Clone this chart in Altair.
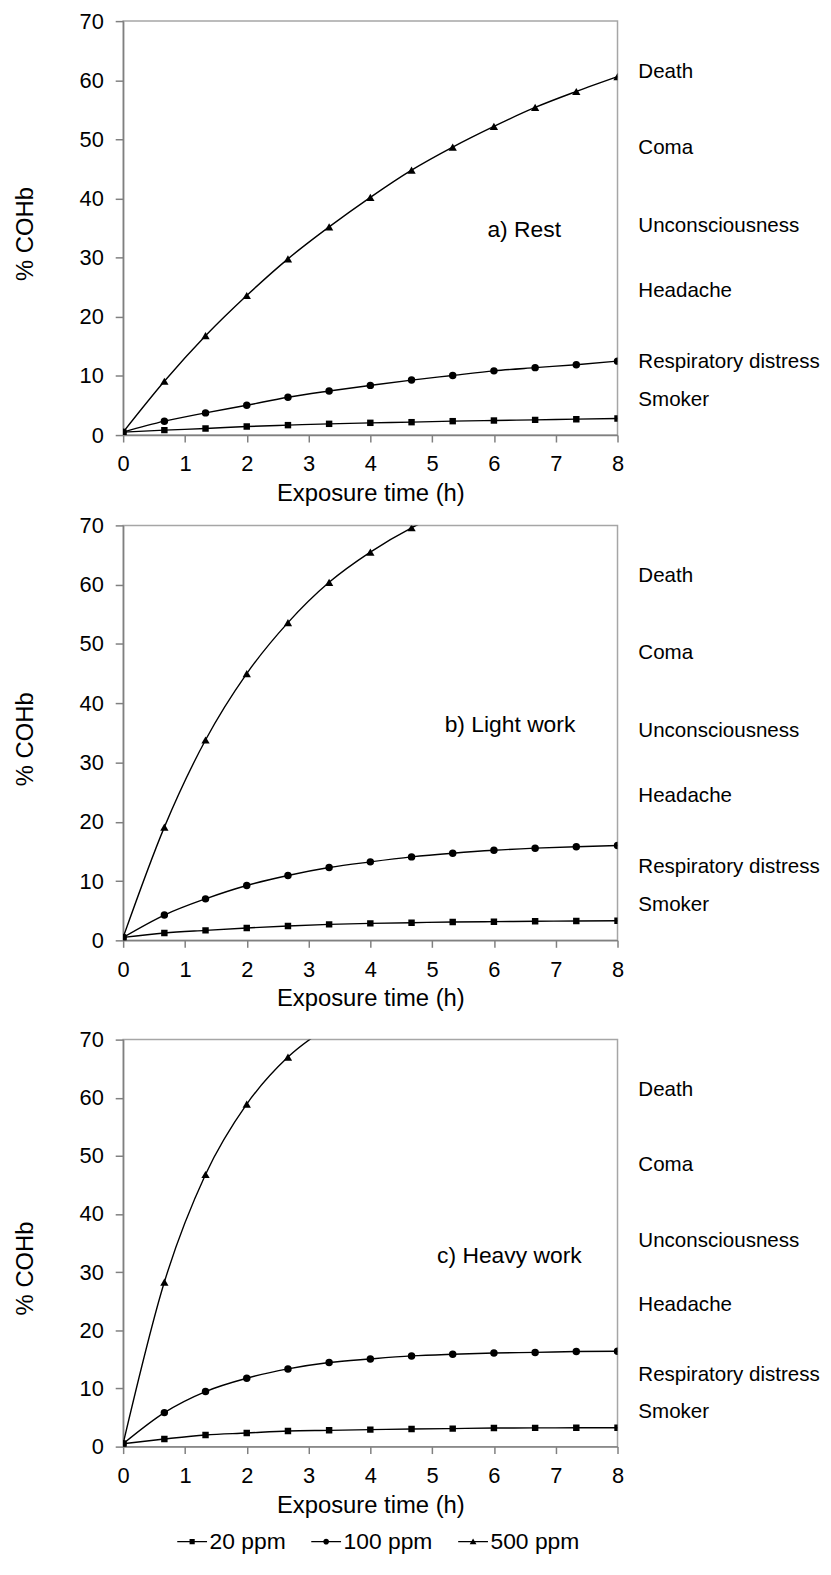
import altair as alt
import pandas as pd

FONT = "Liberation Sans"

# Exposure times (h) of the plotted points (every 40 min)
times = [0, 0.667, 1.333, 2, 2.667, 3.333, 4, 4.667, 5.333, 6, 6.667, 7.333, 8]
series_names = ["20 ppm", "100 ppm", "500 ppm"]
series_shapes = ["square", "circle", "triangle-up"]
series_sizes = [42, 56, 70]

# a) Rest
rest_20 = [0.5, 0.84, 1.10, 1.45, 1.68, 1.90, 2.07, 2.18, 2.35, 2.46, 2.57, 2.69, 2.80]
rest_100 = [0.5, 2.35, 3.75, 5.04, 6.40, 7.45, 8.40, 9.30, 10.08, 10.86, 11.40, 11.90, 12.50]
rest_500 = [0.5, 9.1, 16.8, 23.6, 29.8, 35.2, 40.2, 44.8, 48.7, 52.2, 55.4, 58.1, 60.6]
# b) Light work
light_20 = [0.5, 1.24, 1.68, 2.08, 2.42, 2.69, 2.86, 2.98, 3.09, 3.15, 3.22, 3.26, 3.30]
light_100 = [0.5, 4.27, 7.00, 9.25, 10.94, 12.28, 13.24, 14.08, 14.70, 15.20, 15.55, 15.80, 16.00]
light_500 = [0.5, 19.1, 33.8, 45.0, 53.6, 60.4, 65.5, 69.6, 72.7]
# c) Heavy work
heavy_20 = [0.5, 1.31, 2.00, 2.34, 2.69, 2.80, 2.92, 3.03, 3.10, 3.20, 3.22, 3.24, 3.25]
heavy_100 = [0.5, 5.85, 9.47, 11.76, 13.36, 14.46, 15.08, 15.60, 15.89, 16.10, 16.20, 16.35, 16.40]
heavy_500 = [0.5, 28.3, 46.8, 58.9, 67.0, 72.3]

panel_titles = ["a) Rest", "b) Light work", "c) Heavy work"]
panel_title_x = [6.49, 6.26, 6.25]
panel_title_y = [34.7, 36.3, 32.8]
panel_heights = [417, 418, 410]
y_title_offsets = [214, 215, 230]

effect_labels = ["Death", "Coma", "Unconsciousness", "Headache",
                 "Respiratory distress", "Smoker"]
effect_levels = [61.4, 48.5, 35.3, 24.4, 12.3, 6.0]

x_ticks = [0, 1, 2, 3, 4, 5, 6, 7, 8]
y_ticks = [0, 10, 20, 30, 40, 50, 60, 70]

# legend symbols: a short line (thin filled bar) with the marker in its middle
bar = "M-1.5,-0.07H1.5V0.07H-1.5Z"
legend_paths = [
    bar + "M-0.26,-0.26H0.26V0.26H-0.26Z",
    bar + "M-0.29,0A0.29,0.29 0 1,1 0.29,0A0.29,0.29 0 1,1 -0.29,0Z",
    bar + "M0,-0.32L0.34,0.26L-0.34,0.26Z",
]

legend = alt.Legend(
    title=None,
    orient="none",
    legendX=58,
    legendY=1520,
    offset=0,
    direction="horizontal",
    labelFont=FONT,
    labelFontSize=23,
    labelColor="black",
    labelOffset=6,
    labelLimit=300,
    columnPadding=25,
    symbolSize=400,
    symbolOpacity=1,
    symbolFillColor="black",
    symbolStrokeColor="black",
    symbolStrokeWidth=0,
)


def make_df(s20, s100, s500):
    rows = []
    for name, vals in zip(series_names, [s20, s100, s500]):
        for t, v in zip(times, vals):
            rows.append({"t": t, "v": v, "series": name})
    return pd.DataFrame(rows)


def panel(df, idx, with_legend):
    x = alt.X("t:Q", scale=alt.Scale(domain=[0, 8], nice=False),
              axis=alt.Axis(values=x_ticks, title="Exposure time (h)", format="d",
                            labelFlush=False))
    y = alt.Y("v:Q", scale=alt.Scale(domain=[0, 70], nice=False),
              axis=alt.Axis(values=y_ticks, title="% COHb",
                            titleX=-86.5, titleY=y_title_offsets[idx]))
    base = alt.Chart(df)
    layers = [
        base.mark_line(clip=True, color="black", strokeWidth=1.4,
                       interpolate="monotone").encode(x=x, y=y, detail="series:N")
    ]
    for name, shp, sz in zip(series_names, series_shapes, series_sizes):
        layers.append(
            base.transform_filter(alt.datum.series == name)
            .mark_point(clip=True, filled=True, color="black", opacity=1,
                        shape=shp, size=sz)
            .encode(x=x, y=y)
        )
    ann_df = pd.DataFrame({"v": effect_levels, "label": effect_labels})
    layers.append(
        alt.Chart(ann_df).mark_text(
            align="left", baseline="middle", dx=21, font=FONT, fontSize=20.7,
            color="black"
        ).encode(x=alt.datum(8), y=alt.Y("v:Q"), text="label:N")
    )
    lab_df = pd.DataFrame({"t": [panel_title_x[idx]], "v": [panel_title_y[idx]],
                           "label": [panel_titles[idx]]})
    layers.append(
        alt.Chart(lab_df).mark_text(
            align="center", baseline="middle", font=FONT, fontSize=23, color="black"
        ).encode(x=alt.X("t:Q"), y=alt.Y("v:Q"), text="label:N")
    )
    if with_legend:
        leg_df = pd.DataFrame({"series": series_names})
        layers.append(
            alt.Chart(leg_df).mark_point(filled=True, fill="black", opacity=0)
            .encode(
                x=alt.value(0), y=alt.value(0),
                shape=alt.Shape("series:N",
                                scale=alt.Scale(domain=series_names, range=legend_paths),
                                legend=legend),
            )
        )
    return alt.layer(*layers).properties(width=498, height=panel_heights[idx])


p1 = panel(make_df(rest_20, rest_100, rest_500), 0, False)
p2 = panel(make_df(light_20, light_100, light_500), 1, False)
p3 = panel(make_df(heavy_20, heavy_100, heavy_500), 2, True)

chart = (
    alt.vconcat(alt.vconcat(p1, p2, spacing=7), p3, spacing=16)
    .properties(padding={"left": 4, "top": -4.5, "right": 2, "bottom": 0})
    .configure_view(stroke="#a6a6a6", strokeWidth=1.5)
    .configure_axis(
        domainColor="#808080", tickColor="#808080", domainWidth=1.5, tickWidth=1.5,
        labelColor="black", titleColor="black", labelFont=FONT, titleFont=FONT,
        labelFontSize=22, titleFontSize=24, titleFontWeight="normal", grid=False,
    )
    .configure_axisX(tickSize=7, labelPadding=12, titlePadding=7)
    .configure_axisY(tickSize=8, labelPadding=12)
)

chart.save("out.html", embed_options={"renderer": "svg", "actions": False})
